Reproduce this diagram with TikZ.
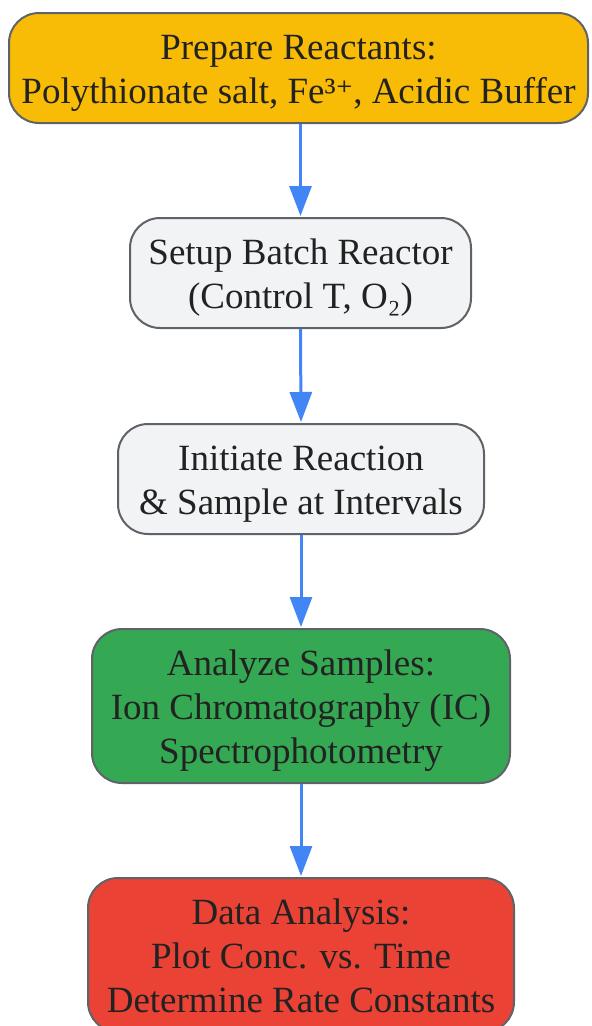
\documentclass[tikz,border=0pt]{standalone}
\usepackage{fontspec}
\setmainfont{Liberation Serif}
\newfontfamily\dvs[Scale=0.9]{DejaVu Serif}
\usetikzlibrary{arrows.meta}
\definecolor{cyel}{HTML}{F9BC06}
\definecolor{cgray}{HTML}{F1F3F4}
\definecolor{cgreen}{HTML}{34A853}
\definecolor{cred}{HTML}{EA4335}
\definecolor{cborder}{HTML}{5F6368}
\definecolor{ctext}{HTML}{222222}
\definecolor{carrow}{HTML}{4285F4}
\newcommand\shiftdown[1]{\raisebox{-5pt}[\height][\depth]{\begin{tabular}{@{}c@{}}#1\end{tabular}}}
\tikzset{
  stepbox/.style={draw=cborder, line width=2pt, rounded corners=30pt, inner sep=0pt,
    align=center, text=ctext, font=\fontsize{37}{44}\selectfont},
  flow/.style={draw=carrow, line width=3pt, -{Triangle[length=30pt,width=22pt]}, shorten >=1pt}
}
\begin{document}
\begin{tikzpicture}[x=1pt,y=-1pt]
\useasboundingbox (0,0) rectangle (592,1026);
\begin{scope}
\clip (0,0) rectangle (592,1026);
\node[stepbox, fill=cyel, minimum width=579pt, minimum height=110pt] (n1) at (298.5,68)
  {\shiftdown{Prepare Reactants:\\Polythionate salt, Fe³{\dvs ⁺}, Acidic Buffer}};
\node[stepbox, fill=cgray, minimum width=341pt, minimum height=110pt] (n2) at (300.5,273)
  {\shiftdown{Setup Batch Reactor\\(Control T, O₂)}};
\node[stepbox, fill=cgray, minimum width=366pt, minimum height=110pt] (n3) at (301,479)
  {\shiftdown{Initiate Reaction\\\& Sample at Intervals}};
\node[stepbox, fill=cgreen, minimum width=418pt, minimum height=154pt] (n4) at (301,706)
  {\shiftdown{Analyze Samples:\\Ion Chromatography (IC)\\Spectrophotometry}};
\node[stepbox, fill=cred, minimum width=426pt, minimum height=154pt] (n5) at (301,955)
  {\shiftdown{Data Analysis:\\Plot Conc. vs. Time\\Determine Rate Constants}};
\draw[flow] (n1.south -| n2.north) -- (n2.north);
\draw[flow] (n2.south) -- (n3.north);
\draw[flow] (n3.south) -- (n4.north);
\draw[flow] (n4.south) -- (n5.north);
\end{scope}
\end{tikzpicture}
\end{document}
